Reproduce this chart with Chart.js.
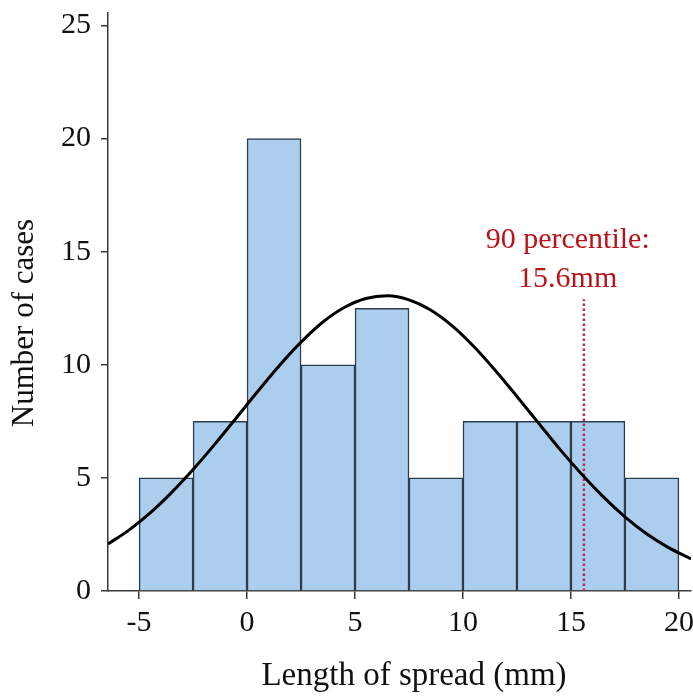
<!DOCTYPE html>
<html><head><meta charset="utf-8">
<script src="https://cdn.jsdelivr.net/npm/chart.js@4/dist/chart.umd.min.js"></script>
<style>html,body{margin:0;padding:0;background:#fff}#wrap{width:693px;height:698px}</style>
</head><body><div id="wrap"><canvas id="c"></canvas></div>
<script>
// ---- data ----
const binCenters = [-3.75, -1.25, 1.25, 3.75, 6.25, 8.75, 11.25, 13.75, 16.25, 18.75];
const binCounts  = [5, 7.5, 20, 10, 12.5, 5, 7.5, 7.5, 7.5, 5];
const curveX = [-6.44, -5.5, -4.5, -3.5, -2.5, -1.5, -0.5, 0.5, 1.5, 2.5, 3.5, 4.5, 5.5, 6.5,
                7.5, 8.5, 9.5, 10.5, 11.5, 12.5, 13.5, 14.5, 15.5, 16.5, 17.5, 18.5, 19.5, 20.56];
const curveY = [2.08, 2.67, 3.44, 4.35, 5.37, 6.48, 7.65, 8.83, 9.97, 11.0, 11.88, 12.53, 12.93, 13.05,
                12.87, 12.42, 11.72, 10.81, 9.75, 8.6, 7.42, 6.25, 5.16, 4.16, 3.28, 2.53, 1.93, 1.42];
const percentileX = 15.6;
const percentileTop = 12.9;
const xTicks = [-5, 0, 5, 10, 15, 20];
const yTicks = [0, 5, 10, 15, 20, 25];
const noteLines = ['90 percentile:', '15.6mm'];
const noteX = 14.85;
const noteY = [15.18, 13.45];
const xTitle = 'Length of spread (mm)';
const yTitle = 'Number of cases';

const SERIF = '"Liberation Serif", "Times New Roman", serif';
const AXIS = '#3a3a3a';

const textPlugin = {
  id: 'texts',
  afterDatasetsDraw(chart) {
    const {ctx, scales} = chart;
    ctx.save();
    ctx.fillStyle = '#b8141c';
    ctx.font = '30px ' + SERIF;
    ctx.textAlign = 'center';
    ctx.textBaseline = 'alphabetic';
    noteLines.forEach((t, i) => {
      ctx.fillText(t, scales.x.getPixelForValue(noteX), scales.y.getPixelForValue(noteY[i]));
    });
    ctx.restore();
  },
  afterDraw(chart) {
    const {ctx} = chart;
    ctx.save();
    ctx.fillStyle = '#111';
    ctx.textAlign = 'center';
    ctx.textBaseline = 'alphabetic';
    ctx.font = '33px ' + SERIF;
    ctx.fillText(xTitle, 414, 685);
    ctx.translate(33, 323);
    ctx.rotate(-Math.PI / 2);
    ctx.font = '31px ' + SERIF;
    ctx.fillText(yTitle, 0, 0);
    ctx.restore();
  }
};

new Chart(document.getElementById('c'), {
  type: 'bar',
  data: {
    datasets: [
      {
        type: 'line',
        data: curveX.map((x, i) => ({x, y: curveY[i]})),
        borderColor: '#000',
        borderWidth: 3,
        pointRadius: 0,
        cubicInterpolationMode: 'monotone',
        fill: false,
        order: 0
      },
      {
        type: 'line',
        data: [{x: percentileX, y: 0}, {x: percentileX, y: percentileTop}],
        borderColor: '#b0305a',
        borderWidth: 2.5,
        borderDash: [2.5, 2.5],
        pointRadius: 0,
        fill: false,
        order: 1
      },
      {
        type: 'bar',
        data: binCenters.map((x, i) => ({x, y: binCounts[i]})),
        backgroundColor: '#abcdee',
        borderColor: '#2e3d4c',
        borderWidth: 1.5,
        barPercentage: 1,
        categoryPercentage: 1,
        order: 3
      }
    ]
  },
  options: {
    responsive: true,
    maintainAspectRatio: false,
    animation: false,
    layout: {padding: {top: 13, right: 2, left: 0, bottom: 0}},
    plugins: {legend: {display: false}, tooltip: {enabled: false}},
    scales: {
      x: {
        type: 'linear',
        min: -6.44,
        max: 20.56,
        offset: false,
        border: {color: AXIS, width: 1.5},
        grid: {display: true, offset: false, drawOnChartArea: false, drawTicks: true, tickLength: 8, color: AXIS, lineWidth: 1.5},
        ticks: {font: {family: SERIF, size: 30}, color: '#111', padding: 6, maxRotation: 0, autoSkip: false},
        afterBuildTicks: s => { s.ticks = xTicks.map(v => ({value: v})); },
        afterFit: s => { s.height = 107; s.paddingLeft = 0; s.paddingRight = 0; }
      },
      y: {
        type: 'linear',
        min: 0,
        max: 25.55,
        border: {color: AXIS, width: 1.5},
        grid: {display: true, offset: false, drawOnChartArea: false, drawTicks: true, tickLength: 7, color: AXIS, lineWidth: 1.5},
        ticks: {font: {family: SERIF, size: 30}, color: '#111', padding: 10, autoSkip: false},
        afterBuildTicks: s => { s.ticks = yTicks.map(v => ({value: v})); },
        afterFit: s => { s.width = 108; s.paddingTop = 0; s.paddingBottom = 0; }
      }
    }
  },
  plugins: [textPlugin]
});
</script>
</body></html>
